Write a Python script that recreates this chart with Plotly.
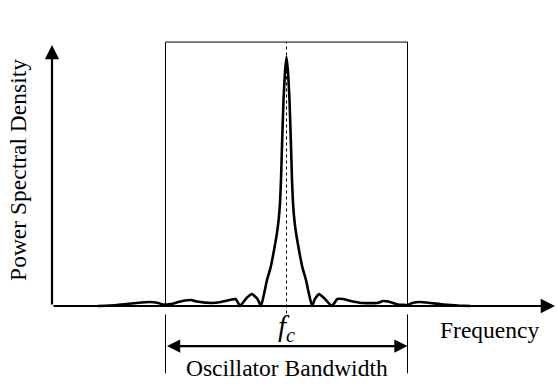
import plotly.graph_objects as go

# Frequency offset from f_c, in units of half the oscillator bandwidth
freq = [-1.56, -1.40, -1.24, -1.13, -1.06, -1.02, -0.96, -0.86, -0.79, -0.74,
        -0.62, -0.54, -0.47, -0.42, -0.384, -0.33, -0.285, -0.24, -0.2107,
        -0.186, -0.1612, -0.1322, -0.1074, -0.0826, -0.0661, -0.0537, -0.0455,
        -0.0372, -0.0248, -0.0124, 0.0,
        0.0124, 0.0248, 0.0372, 0.0455, 0.0537, 0.0661, 0.0826, 0.1074,
        0.1322, 0.1612, 0.186, 0.2107, 0.235,
        0.269, 0.31, 0.376, 0.42, 0.467, 0.53, 0.62, 0.75, 0.80, 0.84,
        0.92, 1.00, 1.04, 1.10, 1.19, 1.30, 1.42, 1.52]
# Normalised power spectral density
psd = [0.0, 0.004, 0.012, 0.016, 0.012, 0.006, 0.008, 0.020, 0.024, 0.018,
       0.012, 0.016, 0.024, 0.028, 0.0, 0.032, 0.048, 0.028, 0.0,
       0.048, 0.104, 0.153, 0.213, 0.281, 0.341, 0.414, 0.506,
       0.643, 0.827, 0.940, 1.0,
       0.940, 0.827, 0.643, 0.506, 0.414, 0.341, 0.281, 0.213,
       0.153, 0.104, 0.048, 0.0, 0.028,
       0.048, 0.032, 0.0, 0.028, 0.028, 0.020, 0.012, 0.012, 0.020, 0.018,
       0.006, 0.004, 0.012, 0.016, 0.012, 0.006, 0.002, 0.0]

band_lo, band_hi = -1.0, 1.0
box_top = 1.06

x_range = [-2.3678, 2.2355]
y_range = [-0.3133, 1.2289]
axis_x0 = -1.938
x_tip = 2.219
y_tip = 1.048

fig = go.Figure()
fig.add_trace(go.Scatter(x=freq, y=psd, mode="lines",
                         line=dict(color="black", width=2.6, shape="spline", smoothing=0.4),
                         hoverinfo="skip", showlegend=False))

shapes = [
    dict(type="rect", x0=band_lo, x1=band_hi, y0=0, y1=box_top,
         line=dict(color="black", width=1)),
    dict(type="line", x0=0, x1=0, y0=-0.03, y1=box_top,
         line=dict(color="black", width=1, dash="dot")),
    dict(type="line", x0=band_lo, x1=band_lo, y0=-0.034, y1=-0.27,
         line=dict(color="black", width=1)),
    dict(type="line", x0=band_hi, x1=band_hi, y0=-0.034, y1=-0.27,
         line=dict(color="black", width=1)),
]

serif = "Liberation Serif"
annotations = [
    # x axis arrow
    dict(x=x_tip, y=0, ax=axis_x0, ay=0, xref="x", yref="y", axref="x", ayref="y",
         showarrow=True, arrowhead=2, arrowsize=1.3, arrowwidth=2.2, arrowcolor="black", text=""),
    # y axis arrow
    dict(x=axis_x0, y=y_tip, ax=axis_x0, ay=0, xref="x", yref="y", axref="x", ayref="y",
         showarrow=True, arrowhead=2, arrowsize=1.3, arrowwidth=2.2, arrowcolor="black", text=""),
    # bandwidth double arrow
    dict(x=band_hi, y=-0.161, ax=band_lo, ay=-0.161, xref="x", yref="y", axref="x", ayref="y",
         showarrow=True, arrowhead=2, startarrowhead=2, arrowside="end+start",
         arrowsize=1.2, startarrowsize=1.2, arrowwidth=2.2, arrowcolor="black", text=""),
    dict(x=0, y=-0.249, xref="x", yref="y", text="Oscillator Bandwidth", showarrow=False,
         font=dict(family=serif, size=23.5, color="black")),
    dict(x=0, y=-0.09, xref="x", yref="y", text="<i>f</i><sub><i>c</i></sub>", showarrow=False,
         font=dict(family=serif, size=29, color="black")),
    dict(x=1.68, y=-0.096, xref="x", yref="y", text="Frequency", showarrow=False,
         font=dict(family=serif, size=23.5, color="black")),
    dict(x=-2.22, y=0.546, xref="x", yref="y", text="Power Spectral Density", showarrow=False,
         textangle=-90, font=dict(family=serif, size=23.5, color="black")),
]

fig.update_layout(
    width=557, height=384,
    margin=dict(l=0, r=0, t=0, b=0),
    font=dict(family=serif, color="black"),
    paper_bgcolor="white", plot_bgcolor="white",
    xaxis=dict(range=x_range, visible=False, fixedrange=True),
    yaxis=dict(range=y_range, visible=False, fixedrange=True),
    shapes=shapes, annotations=annotations,
)
fig.write_html("out.html", config={"displayModeBar": False},
               post_script="document.body.style.margin='0';document.body.style.overflow='hidden';")
